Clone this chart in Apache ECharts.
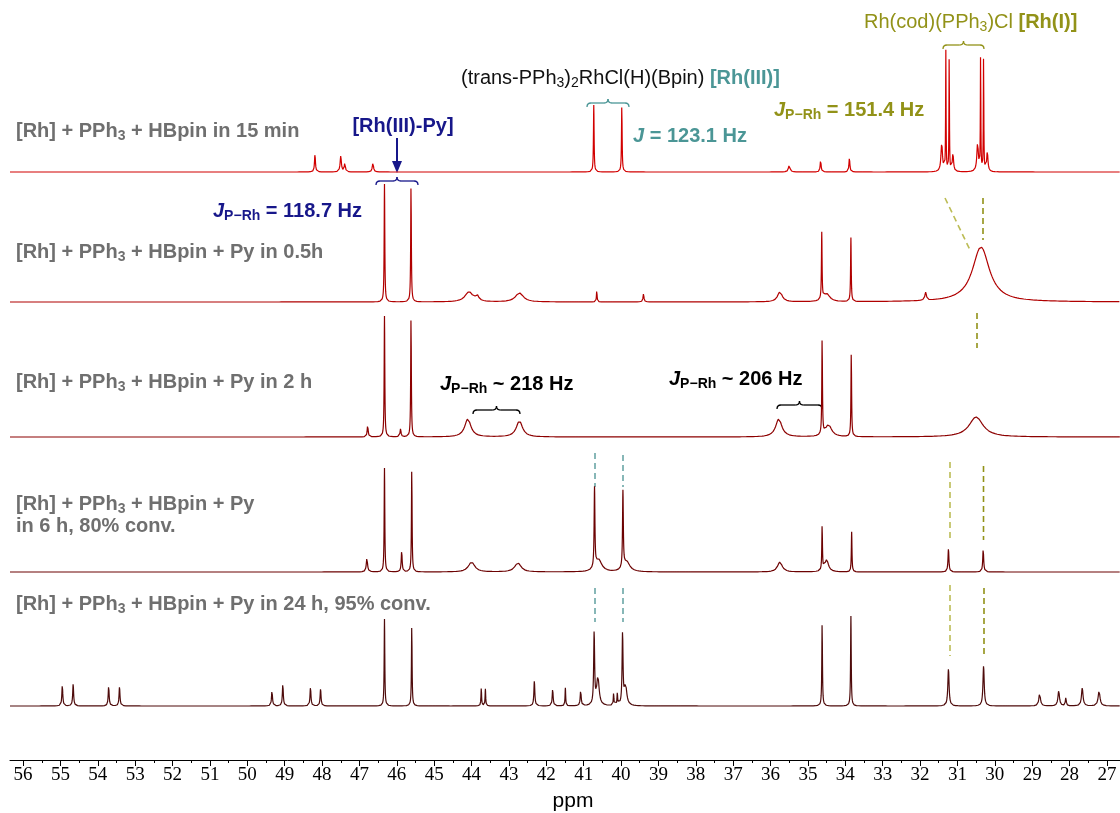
<!DOCTYPE html>
<html><head><meta charset="utf-8">
<script src="https://cdn.jsdelivr.net/npm/echarts@6/dist/echarts.min.js"></script>
<style>html,body{margin:0;padding:0;background:#fff}#c{width:1120px;height:813px}</style>
</head><body><div id="c"></div>
<script>
// ---- data ----
// x range of the recorded spectra (ppm)
const ppmStart = 56.35, ppmEnd = 26.65, ppmStep = 0.004;
const tickLabels = [56,55,54,53,52,51,50,49,48,47,46,45,44,43,42,41,40,39,38,37,36,35,34,33,32,31,30,29,28,27];
const minorTicks = [55.5,54.5,53.5,52.5,51.5,50.5,49.5,48.5,47.5,46.5,45.5,44.5,43.5,42.5,41.5,40.5,39.5,38.5,37.5,36.5,35.5,34.5,33.5,32.5,31.5,30.5,29.5,28.5,27.5];
const spectrumNames = ['15 min', '0.5 h', '2 h', '6 h', '24 h'];
// peaks: [ppm, intensity, line width (ppm)]
const peaks15min = [
  [48.19,18,0.03],[47.5,16,0.04],[47.39,10,0.03],[46.64,9,0.04],
  [40.73,67,0.02],[39.98,67,0.02],[35.5,7,0.05],[34.66,12,0.03],[33.89,14,0.03],
  [31.42,28,0.05],[31.31,120,0.014],[31.22,120,0.014],[31.12,18,0.04],
  [30.46,28,0.05],[30.38,120,0.014],[30.30,120,0.014],[30.2,20,0.04]
];
const peaks05h = [
  [46.33,118,0.02],[45.62,118,0.02],[44.07,10,0.25],[43.85,5,0.1],[42.72,9,0.25],
  [40.65,12,0.02],[39.4,8,0.03],[35.75,10,0.15],[34.63,67,0.02],[34.5,8,0.2],
  [33.85,64,0.02],[31.85,8,0.05],[30.37,55,0.55]
];
const peaks2h = [
  [46.78,12,0.03],[46.33,121,0.02],[45.9,8,0.03],[45.62,121,0.02],[44.1,18,0.2],
  [42.72,16,0.2],[35.78,18,0.2],[34.62,97,0.02],[34.45,12,0.2],[33.84,85,0.02],
  [30.5,20,0.45]
];
const peaks6h = [
  [46.8,14,0.04],[46.33,104,0.02],[45.87,21,0.03],[45.6,104,0.02],[44.0,10,0.2],
  [42.76,9,0.2],[40.71,80,0.025],[40.6,12,0.2],[39.95,77,0.025],[39.85,10,0.2],
  [35.75,10,0.15],[34.62,45,0.02],[34.5,12,0.12],[33.83,40,0.02],
  [31.24,23,0.03],[30.31,23,0.03]
];
const peaks24h = [
  [54.95,21,0.03],[54.66,22,0.03],[53.71,20,0.03],[53.42,19,0.03],[49.34,16,0.03],
  [49.05,22,0.03],[48.31,19,0.03],[48.04,17,0.03],[46.33,87,0.02],[45.6,81,0.02],
  [43.74,18,0.02],[43.63,17,0.02],[42.32,25,0.03],[41.83,17,0.03],[41.49,18,0.02],
  [41.08,16,0.03],[40.72,72,0.03],[40.62,28,0.08],[40.2,12,0.02],[40.1,12,0.02],
  [39.96,71,0.03],[39.88,20,0.08],[34.62,84,0.02],[33.85,90,0.02],[31.24,37,0.04],
  [30.30,40,0.04],[28.8,13,0.05],[28.29,15,0.05],[28.1,8,0.03],[27.66,18,0.05],[27.21,15,0.06]
];
const spectraPeaks = [peaks15min, peaks05h, peaks2h, peaks6h, peaks24h];

// ---- layout / style ----
const stackOffsets = [588, 458, 323, 188, 54];
const lineColors = ['#d20000', '#b00000', '#8c0000', '#6c0202', '#4e0b0b'];

function buildSpectrum(peaks, offset) {
  const out = [];
  for (let x = ppmStart; x >= ppmEnd; x -= ppmStep) {
    let y = 0;
    for (const [c, h, w] of peaks) {
      const d = (x - c) / (w / 2);
      y += h / (1 + d * d);
    }
    out.push([+x.toFixed(4), offset + y]);
  }
  return out;
}

const chart = echarts.init(document.getElementById('c'), null, {renderer: 'canvas'});
const FONT = '"Liberation Sans", Arial, sans-serif';
const gray = '#6f6f6f', navy = '#17178a', teal = '#4b9696', olive = '#929218', oliveLight = '#bcbc55';

function rich(color, size, bold) {
  const w = bold ? 'bold' : 'normal';
  return {
    a: {fontFamily: FONT, fontSize: size, fontWeight: w, fill: color},
    s: {fontFamily: FONT, fontSize: Math.round(size * 0.7), fontWeight: w, fill: color, padding: [11, 0, 0, 0]},
    j: {fontFamily: FONT, fontSize: size, fontWeight: w, fontStyle: 'italic', fill: color},
    b: {fontFamily: FONT, fontSize: size, fontWeight: 'bold', fill: teal},
    o: {fontFamily: FONT, fontSize: size, fontWeight: 'bold', fill: olive}
  };
}
function txt(x, y, text, color, size, bold, align) {
  return {type: 'text', x: x, y: y, silent: true,
    style: {text: text, rich: rich(color, size, bold), align: align || 'left', verticalAlign: 'middle',
      fontFamily: FONT, fontSize: size, fontWeight: bold ? 'bold' : 'normal', fill: color}};
}
function seg(x1, y1, x2, y2, color, w) {
  return {type: 'line', silent: true, shape: {x1, y1, x2, y2}, style: {stroke: color, lineWidth: w || 1.3}};
}
function qcurve(x1, y1, cx, cy, x2, y2, color) {
  return {type: 'bezierCurve', silent: true, shape: {x1, y1, x2, y2, cpx1: cx, cpy1: cy},
    style: {stroke: color, lineWidth: 1.3, fill: null}};
}
function brace(x1, x2, y, color) {
  const h = 4, xm = (x1 + x2) / 2;
  return {type: 'group', silent: true, children: [
    qcurve(x1, y + h, x1, y, x1 + h, y, color),
    seg(x1 + h, y, xm - h, y, color),
    qcurve(xm - h, y, xm, y, xm, y - h, color),
    qcurve(xm, y - h, xm, y, xm + h, y, color),
    seg(xm + h, y, x2 - h, y, color),
    qcurve(x2 - h, y, x2, y, x2, y + h, color)
  ]};
}
function dash(x1, y1, x2, y2, color) {
  return {type: 'line', silent: true, shape: {x1, y1, x2, y2}, style: {stroke: color, lineWidth: 1.6, lineDash: [6, 4]}};
}

const graphics = [
  txt(573, 801, 'ppm', '#000', 21, false, 'center'),
  txt(16, 131, '{a|[Rh] + PPh}{s|3}{a| + HBpin in 15 min}', gray, 20, true),
  txt(16, 252, '{a|[Rh] + PPh}{s|3}{a| + HBpin + Py in 0.5h}', gray, 20, true),
  txt(16, 382, '{a|[Rh] + PPh}{s|3}{a| + HBpin + Py in 2 h}', gray, 20, true),
  txt(16, 504, '{a|[Rh] + PPh}{s|3}{a| + HBpin + Py}', gray, 20, true),
  txt(16, 526, '{a|in 6 h, 80% conv.}', gray, 20, true),
  txt(16, 604, '{a|[Rh] + PPh}{s|3}{a| + HBpin + Py in 24 h, 95% conv.}', gray, 20, true),
  txt(403, 126, '{a|[Rh(III)-Py]}', navy, 20, true, 'center'),
  seg(397, 138, 397, 163, navy, 2),
  {type: 'polygon', silent: true, shape: {points: [[392, 161], [402, 161], [397, 173]]}, style: {fill: navy}},
  brace(376, 418, 181, navy),
  txt(213, 211, '{j|J}{s|P−Rh}{a| = 118.7 Hz}', navy, 20, true),
  txt(461, 78, '{a|(trans-PPh}{s|3}{a|)}{s|2}{a|RhCl(H)(Bpin) }{b|[Rh(III)]}', '#111', 20, false),
  brace(587, 629, 103, teal),
  txt(633, 136, '{j|J}{a| = 123.1 Hz}', teal, 20, true),
  txt(864, 22, '{a|Rh(cod)(PPh}{s|3}{a|)Cl }{o|[Rh(I)]}', olive, 20, false),
  brace(943, 984, 45, olive),
  txt(774, 110, '{j|J}{s|P−Rh}{a| = 151.4 Hz}', olive, 20, true),
  txt(440, 384, '{j|J}{s|P−Rh}{a| ~ 218 Hz}', '#000', 20, true),
  brace(473, 520, 410, '#000'),
  txt(669, 379, '{j|J}{s|P−Rh}{a| ~ 206 Hz}', '#000', 20, true),
  brace(777, 822, 405, '#000'),
  dash(945, 198, 970, 250, oliveLight),
  dash(983, 198, 983, 240, olive),
  dash(977, 313, 977, 348, olive),
  dash(950, 462, 950, 538, oliveLight),
  dash(983.5, 466, 983.5, 540, olive),
  dash(950, 585, 950, 656, oliveLight),
  dash(984, 588, 984, 658, olive),
  dash(595, 453, 595, 487, '#6aa6a6'),
  dash(623, 455, 623, 487, '#6aa6a6'),
  dash(595, 588, 595, 622, '#6aa6a6'),
  dash(623, 588, 623, 622, '#6aa6a6')
];

const axisBase = {
  type: 'value', inverse: true, min: ppmEnd, max: ppmStart, position: 'bottom',
  splitLine: {show: false}
};

chart.setOption({
  animation: false,
  backgroundColor: '#fff',
  grid: {left: 10, right: 0, top: 0, bottom: 53, containLabel: false},
  xAxis: [
    Object.assign({}, axisBase, {
      axisLine: {show: true, lineStyle: {color: '#000', width: 1}},
      axisTick: {show: true, length: 6, customValues: tickLabels, lineStyle: {color: '#000', width: 1}},
      axisLabel: {show: true, customValues: tickLabels, fontFamily: '"Liberation Serif", "Times New Roman", serif',
        fontSize: 19, color: '#000', margin: 6}
    }),
    Object.assign({}, axisBase, {
      axisLine: {show: false},
      axisTick: {show: true, length: 3, customValues: minorTicks, lineStyle: {color: '#000', width: 1}},
      axisLabel: {show: false}
    })
  ],
  yAxis: {type: 'value', min: 0, max: 760, show: false},
  series: spectraPeaks.map((p, i) => ({
    name: spectrumNames[i], type: 'line', showSymbol: false, silent: true, xAxisIndex: 0,
    data: buildSpectrum(p, stackOffsets[i]),
    lineStyle: {color: lineColors[i], width: 1.2}, itemStyle: {color: lineColors[i]},
    clip: false, z: 2
  })),
  graphic: graphics
});
</script></body></html>
